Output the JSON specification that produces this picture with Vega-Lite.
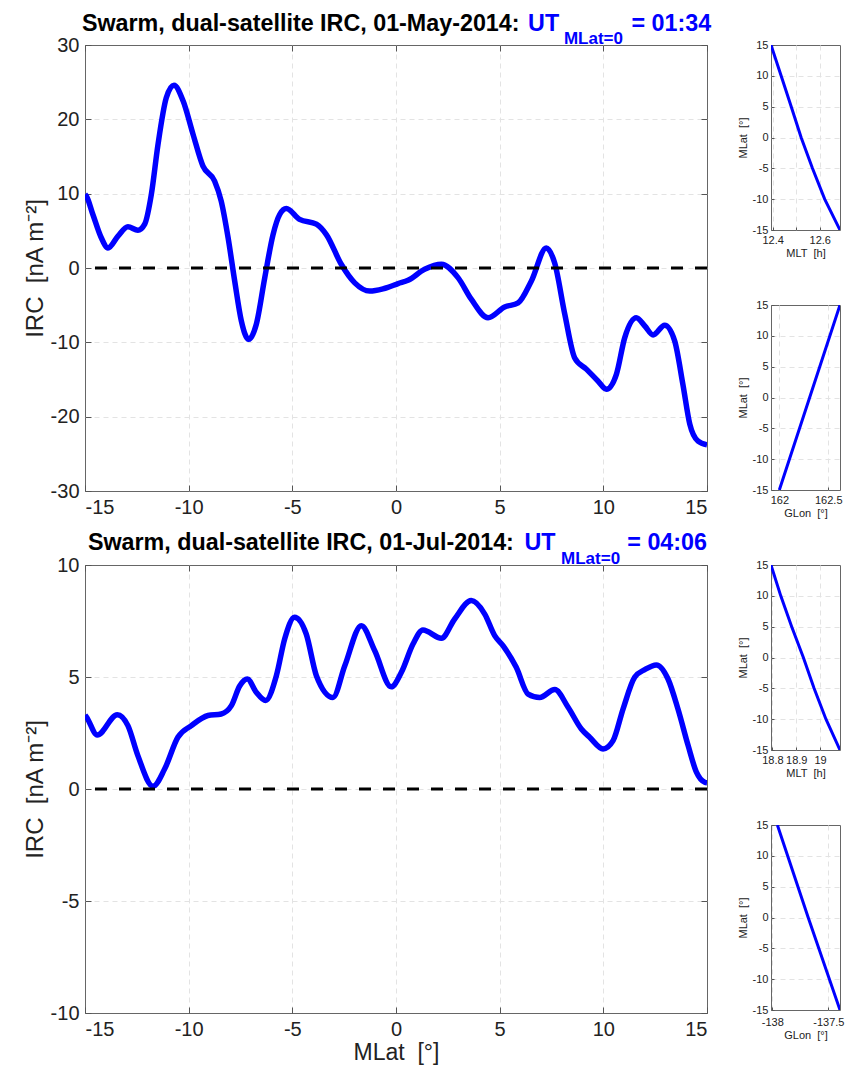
{
  "$schema": "https://vega.github.io/schema/vega-lite/v6.json",
  "background": "white",
  "padding": {"left": 22, "top": 11, "right": 5, "bottom": 5},
  "config": {
    "font": "Liberation Sans",
    "view": {"stroke": "#666666", "strokeWidth": 1},
    "axis": {
      "domain": false,
      "gridColor": "#e3e3e3",
      "gridDash": [5, 4],
      "tickColor": "#555555",
      "labelColor": "#222222",
      "titleColor": "#222222",
      "titleFontWeight": "normal",
      "labelFont": "Liberation Sans",
      "titleFont": "Liberation Sans",
      "labelOverlap": false
    }
  },
  "datasets": {
    "may": [
      {"mlat": -15.0, "irc": 9.9}, {"mlat": -14.94, "irc": 9.7}, {"mlat": -14.62, "irc": 7.2}, {"mlat": -14.22, "irc": 4.1},
      {"mlat": -13.89, "irc": 2.7}, {"mlat": -13.41, "irc": 4.3}, {"mlat": -12.93, "irc": 5.56}, {"mlat": -12.45, "irc": 5.07},
      {"mlat": -12.12, "irc": 5.9}, {"mlat": -11.8, "irc": 9.9}, {"mlat": -11.48, "irc": 16.6}, {"mlat": -11.08, "irc": 22.9},
      {"mlat": -10.71, "irc": 24.6}, {"mlat": -10.27, "irc": 22.5}, {"mlat": -9.79, "irc": 18.0}, {"mlat": -9.31, "irc": 13.7},
      {"mlat": -8.75, "irc": 11.7}, {"mlat": -8.43, "irc": 9.0}, {"mlat": -8.1, "irc": 4.1}, {"mlat": -7.78, "irc": -1.75},
      {"mlat": -7.46, "irc": -7.1}, {"mlat": -7.11, "irc": -9.6}, {"mlat": -6.74, "irc": -7.6}, {"mlat": -6.33, "irc": -1.3},
      {"mlat": -5.93, "irc": 4.5}, {"mlat": -5.61, "irc": 7.2}, {"mlat": -5.29, "irc": 8.0}, {"mlat": -4.65, "irc": 6.55},
      {"mlat": -3.84, "irc": 5.9}, {"mlat": -3.36, "irc": 4.5}, {"mlat": -2.64, "irc": 0.5}, {"mlat": -1.99, "irc": -2.0},
      {"mlat": -1.27, "irc": -3.1}, {"mlat": -0.63, "irc": -2.8}, {"mlat": -0.39, "irc": -2.6}, {"mlat": 0.1, "irc": -2.1},
      {"mlat": 0.58, "irc": -1.66}, {"mlat": 1.38, "irc": -0.18}, {"mlat": 2.19, "irc": 0.5}, {"mlat": 2.99, "irc": -1.3},
      {"mlat": 3.63, "irc": -4.2}, {"mlat": 4.44, "irc": -6.7}, {"mlat": 5.24, "irc": -5.25}, {"mlat": 5.89, "irc": -4.7},
      {"mlat": 6.53, "irc": -1.75}, {"mlat": 7.25, "irc": 2.7}, {"mlat": 7.65, "irc": 0.7}, {"mlat": 8.14, "irc": -6.2},
      {"mlat": 8.62, "irc": -12.1}, {"mlat": 9.18, "irc": -13.6}, {"mlat": 9.74, "irc": -15.2}, {"mlat": 10.15, "irc": -16.3},
      {"mlat": 10.63, "irc": -14.3}, {"mlat": 11.03, "irc": -9.4}, {"mlat": 11.59, "irc": -6.7}, {"mlat": 12.0, "irc": -7.8},
      {"mlat": 12.4, "irc": -9.0}, {"mlat": 12.96, "irc": -7.7}, {"mlat": 13.44, "irc": -9.8}, {"mlat": 13.84, "irc": -15.7},
      {"mlat": 14.17, "irc": -21.0}, {"mlat": 14.57, "irc": -23.3}, {"mlat": 15.0, "irc": -23.8}
    ],
    "jul": [
      {"mlat": -15.0, "irc": 3.3}, {"mlat": -14.92, "irc": 3.2}, {"mlat": -14.41, "irc": 2.41}, {"mlat": -13.44, "irc": 3.32},
      {"mlat": -12.93, "irc": 2.83}, {"mlat": -12.45, "irc": 1.49}, {"mlat": -11.72, "irc": 0.12}, {"mlat": -11.16, "irc": 0.89},
      {"mlat": -10.52, "irc": 2.31}, {"mlat": -9.87, "irc": 2.83}, {"mlat": -9.07, "irc": 3.28}, {"mlat": -8.43, "irc": 3.35},
      {"mlat": -7.94, "irc": 3.72}, {"mlat": -7.54, "irc": 4.6}, {"mlat": -7.17, "irc": 4.91}, {"mlat": -6.74, "irc": 4.32},
      {"mlat": -6.29, "irc": 3.95}, {"mlat": -5.77, "irc": 5.06}, {"mlat": -5.37, "irc": 6.7}, {"mlat": -4.89, "irc": 7.67},
      {"mlat": -4.33, "irc": 6.92}, {"mlat": -3.84, "irc": 5.06}, {"mlat": -3.04, "irc": 4.09}, {"mlat": -2.47, "irc": 5.5},
      {"mlat": -1.67, "irc": 7.29}, {"mlat": -1.03, "irc": 6.18}, {"mlat": -0.23, "irc": 4.56}, {"mlat": 0.26, "irc": 5.21},
      {"mlat": 0.82, "irc": 6.47}, {"mlat": 1.3, "irc": 7.1}, {"mlat": 2.19, "irc": 6.73}, {"mlat": 2.83, "irc": 7.59},
      {"mlat": 3.63, "irc": 8.41}, {"mlat": 4.28, "irc": 7.81}, {"mlat": 4.76, "irc": 6.85}, {"mlat": 5.16, "irc": 6.4},
      {"mlat": 5.8, "irc": 5.43}, {"mlat": 6.37, "irc": 4.24}, {"mlat": 6.93, "irc": 4.09}, {"mlat": 7.66, "irc": 4.44},
      {"mlat": 8.3, "irc": 3.65}, {"mlat": 8.94, "irc": 2.68}, {"mlat": 9.34, "irc": 2.31}, {"mlat": 9.99, "irc": 1.79},
      {"mlat": 10.47, "irc": 2.16}, {"mlat": 10.95, "irc": 3.57}, {"mlat": 11.51, "irc": 4.99}, {"mlat": 12.0, "irc": 5.33},
      {"mlat": 12.56, "irc": 5.54}, {"mlat": 13.12, "irc": 4.91}, {"mlat": 13.6, "irc": 3.57}, {"mlat": 14.09, "irc": 1.94},
      {"mlat": 14.49, "irc": 0.75}, {"mlat": 14.89, "irc": 0.3}, {"mlat": 15.0, "irc": 0.28}
    ],
    "may_mlt": [
      {"mlat": 15, "v": 12.393}, {"mlat": 10, "v": 12.436}, {"mlat": 5, "v": 12.479}, {"mlat": 0, "v": 12.521},
      {"mlat": -5, "v": 12.569}, {"mlat": -10, "v": 12.621}, {"mlat": -15, "v": 12.686}
    ],
    "may_glon": [
      {"mlat": -15, "v": 162.0}, {"mlat": -5, "v": 162.207}, {"mlat": 0, "v": 162.31}, {"mlat": 5, "v": 162.413}, {"mlat": 15, "v": 162.62}
    ],
    "jul_mlt": [
      {"mlat": 15, "v": 18.794}, {"mlat": 10, "v": 18.835}, {"mlat": 5, "v": 18.881}, {"mlat": 0, "v": 18.93},
      {"mlat": -5, "v": 18.975}, {"mlat": -10, "v": 19.025}, {"mlat": -15, "v": 19.084}
    ],
    "jul_glon": [
      {"mlat": 15, "v": -137.955}, {"mlat": 0, "v": -137.68}, {"mlat": -15, "v": -137.396}
    ]
  },
  "spacing": 11,
  "vconcat": [
    {
      "spacing": 24,
      "hconcat": [
        {
          "width": 622,
          "height": 446,
          "layer": [
            {
              "data": {"name": "may"},
              "mark": {"type": "line", "color": "#0000ff", "strokeWidth": 5.5, "interpolate": "monotone", "clip": true},
              "encoding": {
                "x": {"field": "mlat", "type": "quantitative", "scale": {"domain": [-15, 15], "nice": false, "zero": false},
                  "axis": {"orient": "bottom", "values": [-15, -10, -5, 0, 5, 10, 15], "title": null, "labelFontSize": 20, "tickSize": -6, "labelPadding": 12, "labelOverlap": false, "gridOpacity": {"condition": {"test": "abs(datum.value) == 15", "value": 0}, "value": 1}, "labelExpr": "datum.value < 0 ? '-' + abs(datum.value) : '' + datum.value"}},
                "y": {"field": "irc", "type": "quantitative", "scale": {"domain": [-30, 30], "nice": false, "zero": false},
                  "axis": {"orient": "left", "values": [-30, -20, -10, 0, 10, 20, 30], "title": "IRC\u00a0 [nA m⁻²]", "titleFontSize": 24, "titlePadding": 3, "labelFontSize": 20, "tickSize": -6, "labelPadding": 12, "labelOverlap": false, "gridOpacity": {"condition": {"test": "abs(datum.value) == 30", "value": 0}, "value": 1}, "labelExpr": "datum.value < 0 ? '-' + abs(datum.value) : '' + datum.value"}}
              }
            },
            {
              "data": {"values": [{}]},
              "mark": {"type": "rule", "color": "#000000", "strokeWidth": 3, "strokeDash": [12, 12]},
              "encoding": {"y": {"datum": 0, "axis": null}}
            },
            {
              "data": {"values": [{}]},
              "mark": {"type": "point", "opacity": 0},
              "encoding": {
                "x": {"datum": 0, "axis": {"orient": "top", "values": [-15, -10, -5, 0, 5, 10, 15], "labels": false, "grid": false, "title": null, "tickSize": -6}},
                "y": {"datum": 0, "axis": {"orient": "right", "values": [-30, -20, -10, 0, 10, 20, 30], "labels": false, "grid": false, "title": null, "tickSize": -6}}
              }
            },
            {
              "data": {"values": [{}]},
              "mark": {"type": "text", "text": "Swarm, dual-satellite IRC, 01-May-2014:", "align": "left", "baseline": "alphabetic", "fontSize": 23.3, "fontWeight": "bold", "color": "#000000"},
              "encoding": {"x": {"datum": -15.15, "axis": null}, "y": {"datum": 31.88, "axis": null}}
            },
            {
              "data": {"values": [{}]},
              "mark": {"type": "text", "text": "UT", "align": "left", "baseline": "alphabetic", "fontSize": 23.3, "fontWeight": "bold", "color": "#0000ff"},
              "encoding": {"x": {"datum": 6.37, "axis": null}, "y": {"datum": 31.88, "axis": null}}
            },
            {
              "data": {"values": [{}]},
              "mark": {"type": "text", "text": "MLat=0", "align": "left", "baseline": "alphabetic", "fontSize": 17, "fontWeight": "bold", "color": "#0000ff"},
              "encoding": {"x": {"datum": 8.1, "axis": null}, "y": {"datum": 30.2, "axis": null}}
            },
            {
              "data": {"values": [{}]},
              "mark": {"type": "text", "text": "= 01:34", "align": "right", "baseline": "alphabetic", "fontSize": 23.3, "fontWeight": "bold", "color": "#0000ff"},
              "encoding": {"x": {"datum": 15.2, "axis": null}, "y": {"datum": 31.88, "axis": null}}
            }
          ],
          "resolve": {"axis": {"x": "independent", "y": "independent"}}
        },
        {
          "bounds": "flush",
          "spacing": 75,
          "vconcat": [
            {
              "width": 69,
              "height": 185,
              "layer": [
                {
                  "data": {"name": "may_mlt"},
                  "mark": {"type": "line", "color": "#0000ff", "strokeWidth": 3, "clip": true},
                  "encoding": {
                    "x": {"field": "v", "type": "quantitative", "scale": {"domain": [12.393, 12.686], "nice": false, "zero": false},
                      "axis": {"values": [12.4, 12.5, 12.6], "title": "MLT\u00a0 [h]", "titleFontSize": 11, "titlePadding": 2, "labelFontSize": 11, "tickSize": -3, "labelPadding": 7, "labelOverlap": false, "labelExpr": "datum.value == 12.5 ? '' : format(datum.value, '.1f')"}},
                    "y": {"field": "mlat", "type": "quantitative", "scale": {"domain": [-15, 15], "nice": false, "zero": false},
                      "axis": {"values": [-15, -10, -5, 0, 5, 10, 15], "title": "MLat\u00a0 [°]", "titleFontSize": 11, "titlePadding": 4, "labelFontSize": 11, "tickSize": -3, "labelPadding": 6, "labelOverlap": false, "gridOpacity": {"condition": {"test": "abs(datum.value) == 15", "value": 0}, "value": 1}, "labelExpr": "datum.value < 0 ? '-' + abs(datum.value) : '' + datum.value"}},
                    "order": {"field": "mlat", "type": "quantitative"}
                  }
                },
                {
                  "data": {"values": [{}]},
                  "mark": {"type": "text", "text": "UT", "align": "left", "baseline": "alphabetic", "fontSize": 23.3, "fontWeight": "bold", "opacity": 0},
                  "encoding": {"x": {"datum": 12.5, "axis": null}, "y": {"datum": 17.27, "axis": null}}
                }
              ],
              "resolve": {"axis": {"x": "independent", "y": "independent"}}
            },
            {
              "width": 69,
              "height": 185,
              "data": {"name": "may_glon"},
              "mark": {"type": "line", "color": "#0000ff", "strokeWidth": 3, "clip": true},
              "encoding": {
                "x": {"field": "v", "type": "quantitative", "scale": {"domain": [161.915, 162.62], "nice": false, "zero": false},
                  "axis": {"values": [162, 162.5], "title": "GLon\u00a0 [°]", "titleFontSize": 11, "titlePadding": 2, "labelFontSize": 11, "tickSize": -3, "labelPadding": 7, "labelOverlap": false, "labelExpr": "'' + datum.value"}},
                "y": {"field": "mlat", "type": "quantitative", "scale": {"domain": [-15, 15], "nice": false, "zero": false},
                  "axis": {"values": [-15, -10, -5, 0, 5, 10, 15], "title": "MLat\u00a0 [°]", "titleFontSize": 11, "titlePadding": 4, "labelFontSize": 11, "tickSize": -3, "labelPadding": 6, "labelOverlap": false, "gridOpacity": {"condition": {"test": "abs(datum.value) == 15", "value": 0}, "value": 1}, "labelExpr": "datum.value < 0 ? '-' + abs(datum.value) : '' + datum.value"}},
                "order": {"field": "mlat", "type": "quantitative"}
              }
            }
          ]
        }
      ]
    },
    {
      "spacing": 27,
      "hconcat": [
        {
          "width": 622,
          "height": 448,
          "layer": [
            {
              "data": {"name": "jul"},
              "mark": {"type": "line", "color": "#0000ff", "strokeWidth": 5.5, "interpolate": "monotone", "clip": true},
              "encoding": {
                "x": {"field": "mlat", "type": "quantitative", "scale": {"domain": [-15, 15], "nice": false, "zero": false},
                  "axis": {"orient": "bottom", "values": [-15, -10, -5, 0, 5, 10, 15], "title": "MLat\u00a0 [°]", "titleFontSize": 23, "titlePadding": 2, "labelFontSize": 20, "tickSize": -6, "labelPadding": 12, "labelOverlap": false, "gridOpacity": {"condition": {"test": "abs(datum.value) == 15", "value": 0}, "value": 1}, "labelExpr": "datum.value < 0 ? '-' + abs(datum.value) : '' + datum.value"}},
                "y": {"field": "irc", "type": "quantitative", "scale": {"domain": [-10, 10], "nice": false, "zero": false},
                  "axis": {"orient": "left", "values": [-10, -5, 0, 5, 10], "title": "IRC\u00a0 [nA m⁻²]", "titleFontSize": 24, "titlePadding": 3, "labelFontSize": 20, "tickSize": -6, "labelPadding": 12, "labelOverlap": false, "gridOpacity": {"condition": {"test": "abs(datum.value) == 10", "value": 0}, "value": 1}, "labelExpr": "datum.value < 0 ? '-' + abs(datum.value) : '' + datum.value"}}
              }
            },
            {
              "data": {"values": [{}]},
              "mark": {"type": "rule", "color": "#000000", "strokeWidth": 3, "strokeDash": [12, 12]},
              "encoding": {"y": {"datum": 0, "axis": null}}
            },
            {
              "data": {"values": [{}]},
              "mark": {"type": "point", "opacity": 0},
              "encoding": {
                "x": {"datum": 0, "axis": {"orient": "top", "values": [-15, -10, -5, 0, 5, 10, 15], "labels": false, "grid": false, "title": null, "tickSize": -6}},
                "y": {"datum": 0, "axis": {"orient": "right", "values": [-10, -5, 0, 5, 10], "labels": false, "grid": false, "title": null, "tickSize": -6}}
              }
            },
            {
              "data": {"values": [{}]},
              "mark": {"type": "text", "text": "Swarm, dual-satellite IRC, 01-Jul-2014:", "align": "left", "baseline": "alphabetic", "fontSize": 23.3, "fontWeight": "bold", "color": "#000000"},
              "encoding": {"x": {"datum": -14.86, "axis": null}, "y": {"datum": 10.66, "axis": null}}
            },
            {
              "data": {"values": [{}]},
              "mark": {"type": "text", "text": "UT", "align": "left", "baseline": "alphabetic", "fontSize": 23.3, "fontWeight": "bold", "color": "#0000ff"},
              "encoding": {"x": {"datum": 6.2, "axis": null}, "y": {"datum": 10.66, "axis": null}}
            },
            {
              "data": {"values": [{}]},
              "mark": {"type": "text", "text": "MLat=0", "align": "left", "baseline": "alphabetic", "fontSize": 17, "fontWeight": "bold", "color": "#0000ff"},
              "encoding": {"x": {"datum": 7.96, "axis": null}, "y": {"datum": 10.06, "axis": null}}
            },
            {
              "data": {"values": [{}]},
              "mark": {"type": "text", "text": "= 04:06", "align": "right", "baseline": "alphabetic", "fontSize": 23.3, "fontWeight": "bold", "color": "#0000ff"},
              "encoding": {"x": {"datum": 15.0, "axis": null}, "y": {"datum": 10.66, "axis": null}}
            }
          ],
          "resolve": {"axis": {"x": "independent", "y": "independent"}}
        },
        {
          "bounds": "flush",
          "spacing": 75,
          "vconcat": [
            {
              "width": 69,
              "height": 185,
              "layer": [
                {
                  "data": {"name": "jul_mlt"},
                  "mark": {"type": "line", "color": "#0000ff", "strokeWidth": 3, "clip": true},
                  "encoding": {
                    "x": {"field": "v", "type": "quantitative", "scale": {"domain": [18.794, 19.084], "nice": false, "zero": false},
                      "axis": {"values": [18.8, 18.9, 19], "title": "MLT\u00a0 [h]", "titleFontSize": 11, "titlePadding": 2, "labelFontSize": 11, "tickSize": -3, "labelPadding": 7, "labelOverlap": false, "labelExpr": "'' + datum.value"}},
                    "y": {"field": "mlat", "type": "quantitative", "scale": {"domain": [-15, 15], "nice": false, "zero": false},
                      "axis": {"values": [-15, -10, -5, 0, 5, 10, 15], "title": "MLat\u00a0 [°]", "titleFontSize": 11, "titlePadding": 4, "labelFontSize": 11, "tickSize": -3, "labelPadding": 6, "labelOverlap": false, "gridOpacity": {"condition": {"test": "abs(datum.value) == 15", "value": 0}, "value": 1}, "labelExpr": "datum.value < 0 ? '-' + abs(datum.value) : '' + datum.value"}},
                    "order": {"field": "mlat", "type": "quantitative"}
                  }
                },
                {
                  "data": {"values": [{}]},
                  "mark": {"type": "text", "text": "UT", "align": "left", "baseline": "alphabetic", "fontSize": 23.3, "fontWeight": "bold", "opacity": 0},
                  "encoding": {"x": {"datum": 18.9, "axis": null}, "y": {"datum": 17.27, "axis": null}}
                }
              ],
              "resolve": {"axis": {"x": "independent", "y": "independent"}}
            },
            {
              "width": 69,
              "height": 185,
              "data": {"name": "jul_glon"},
              "mark": {"type": "line", "color": "#0000ff", "strokeWidth": 3, "clip": true},
              "encoding": {
                "x": {"field": "v", "type": "quantitative", "scale": {"domain": [-138.012, -137.396], "nice": false, "zero": false},
                  "axis": {"values": [-138, -137.5], "title": "GLon\u00a0 [°]", "titleFontSize": 11, "titlePadding": 2, "labelFontSize": 11, "tickSize": -3, "labelPadding": 9, "labelOverlap": false, "labelExpr": "'-' + abs(datum.value)"}},
                "y": {"field": "mlat", "type": "quantitative", "scale": {"domain": [-15, 15], "nice": false, "zero": false},
                  "axis": {"values": [-15, -10, -5, 0, 5, 10, 15], "title": "MLat\u00a0 [°]", "titleFontSize": 11, "titlePadding": 4, "labelFontSize": 11, "tickSize": -3, "labelPadding": 6, "labelOverlap": false, "gridOpacity": {"condition": {"test": "abs(datum.value) == 15", "value": 0}, "value": 1}, "labelExpr": "datum.value < 0 ? '-' + abs(datum.value) : '' + datum.value"}},
                "order": {"field": "mlat", "type": "quantitative"}
              }
            }
          ]
        }
      ]
    }
  ]
}
